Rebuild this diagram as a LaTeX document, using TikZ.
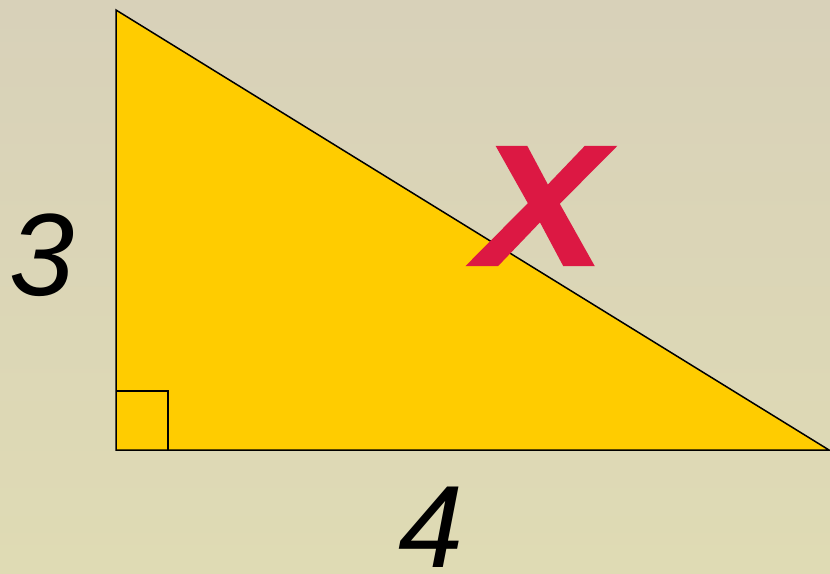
\documentclass[tikz,border=0pt]{standalone}
\usepackage{fontspec}
\setmainfont{Liberation Sans}
\newfontfamily\hypfont{Liberation Sans}[FakeBold=1.2]
\definecolor{bgtop}{RGB}{216,209,185}
\definecolor{bgbot}{RGB}{223,219,180}
\definecolor{tri}{RGB}{255,204,0}
\definecolor{xred}{RGB}{220,24,67}

\begin{document}
\begin{tikzpicture}[x=1pt, y=-1pt,
      side/.style={font=\fontsize{117}{117}\selectfont\itshape, inner sep=0pt, text=black},
      hyp/.style={font=\hypfont\fontsize{172}{172}\selectfont\bfseries\itshape, inner sep=0pt, text=xred, xscale=1.12},
    ]
      \shade[top color=bgtop, bottom color=bgbot] (0,0) rectangle (830,573);
      \useasboundingbox (0,0) rectangle (830,573);
      \coordinate (top) at (116,10);
      \coordinate (corner) at (116,450);
      \coordinate (right) at (829,450);
      \filldraw[fill=tri, draw=black, line width=1.5pt, line join=miter] (top)--(corner)--(right)--cycle;
      \draw[line width=1.5pt] (116,391) -| (168,450);
      \node[side] (label3) at (42,255) {3};
      \node[side] (label4) at (431,527) {4};
      \node[hyp] (labelx) at (541,206) {X};
    \end{tikzpicture}
\end{document}
